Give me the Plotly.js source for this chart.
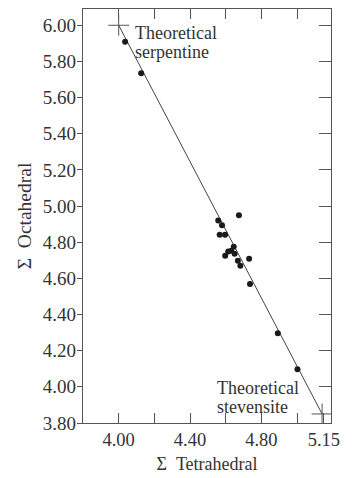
<!DOCTYPE html>
<html>
<head>
<meta charset="utf-8">
<script src="https://cdn.plot.ly/plotly-3.0.1.min.js"></script>
<style>html,body{margin:0;padding:0;background:#fff;}#chart{width:357px;height:478px;}</style>
</head>
<body>
<div id="chart"></div>
<script>
// Measured samples: sum of tetrahedral vs sum of octahedral cations
const tetrahedral = [4.036, 4.126, 4.674, 4.558, 4.579, 4.566, 4.596, 4.645, 4.631, 4.614, 4.597, 4.650, 4.668, 4.682, 4.731, 4.736, 4.892, 5.002];
const octahedral  = [5.909, 5.735, 4.949, 4.920, 4.894, 4.841, 4.841, 4.775, 4.753, 4.748, 4.725, 4.736, 4.698, 4.670, 4.709, 4.569, 4.296, 4.097];
// Theoretical end members
const endNames = ["serpentine", "stevensite"];
const endTetra = [4.00, 5.14];
const endOcta  = [6.00, 3.85];
// Axis ticks
const xTickVals = [4.00, 4.20, 4.40, 4.60, 4.80, 5.00, 5.15];
const xTickText = ["4.00", "", "4.40", "", "4.80", "", "5.15"];
const xTopTickVals = [4.00, 4.20, 4.40, 4.60, 4.80, 5.00];

const FONT = '"Liberation Serif", "DejaVu Serif", "Times New Roman", serif';
const TXT = '#333333';
const LINE = '#555555';
const xr = [3.80, 5.19], yr = [3.80, 6.09];

const traces = [
  {x: endTetra, y: endOcta, mode: 'lines', line: {color: '#444', width: 1}, hoverinfo: 'skip', showlegend: false},
  {x: endTetra, y: endOcta, mode: 'markers', marker: {symbol: 'cross-thin', size: 15, line: {color: '#555', width: 1}}, text: endNames, showlegend: false},
  {x: tetrahedral, y: octahedral, mode: 'markers', marker: {color: '#1a1a1a', size: 6}, showlegend: false},
  {x: [], y: [], xaxis: 'x2', yaxis: 'y2', mode: 'markers', showlegend: false, hoverinfo: 'skip'}
];

const layout = {
  width: 357, height: 478,
  margin: {l: 83, r: 26, t: 9, b: 54.5},
  paper_bgcolor: '#fff', plot_bgcolor: '#fff',
  font: {family: FONT, size: 18, color: TXT},
  showlegend: false,
  xaxis: {
    range: xr, tickmode: 'array', tickvals: xTickVals, ticktext: xTickText,
    ticks: 'inside', ticklen: 10, tickwidth: 1, tickcolor: LINE,
    showline: true, linecolor: LINE, linewidth: 1.2, showgrid: false, zeroline: false,
    tickfont: {family: FONT, size: 18.5, color: TXT},
    title: {text: 'Σ\u2002Tetrahedral', font: {family: FONT, size: 18, color: TXT}, standoff: 8},
    automargin: false
  },
  xaxis2: {
    range: xr, overlaying: 'x', side: 'top', anchor: 'y',
    tickmode: 'array', tickvals: xTopTickVals, showticklabels: false,
    ticks: 'inside', ticklen: 10, tickwidth: 1, tickcolor: LINE,
    showline: true, linecolor: LINE, linewidth: 1.2, showgrid: false, zeroline: false
  },
  yaxis: {
    range: yr, tick0: 3.8, dtick: 0.2, tickformat: '.2f',
    ticks: 'outside', ticklen: 5, tickwidth: 1, tickcolor: LINE,
    ticklabelstandoff: -3,
    showline: true, linecolor: LINE, linewidth: 1.2, showgrid: false, zeroline: false,
    tickfont: {family: FONT, size: 19, color: TXT},
    title: {text: '\u2002\u2002Σ\u2002Octahedral', font: {family: FONT, size: 19.5, color: TXT}, standoff: 6},
    automargin: false
  },
  yaxis2: {
    range: yr, overlaying: 'y', side: 'right', anchor: 'x',
    tick0: 3.8, dtick: 0.2, showticklabels: false,
    ticks: 'inside', ticklen: 12, tickwidth: 1, tickcolor: LINE,
    showline: true, linecolor: LINE, linewidth: 1.2, showgrid: false, zeroline: false
  },
  annotations: [
    {x: 4.082, y: 5.960, xref: 'x', yref: 'y', text: 'Theoretical', showarrow: false, xanchor: 'left', yanchor: 'middle'},
    {x: 4.082, y: 5.852, xref: 'x', yref: 'y', text: 'serpentine', showarrow: false, xanchor: 'left', yanchor: 'middle'},
    {x: 4.540, y: 3.996, xref: 'x', yref: 'y', text: 'Theoretical', showarrow: false, xanchor: 'left', yanchor: 'middle'},
    {x: 4.540, y: 3.888, xref: 'x', yref: 'y', text: 'stevensite', showarrow: false, xanchor: 'left', yanchor: 'middle'}
  ]
};

Plotly.newPlot('chart', traces, layout, {displayModeBar: false, staticPlot: true});
</script>
</body>
</html>
